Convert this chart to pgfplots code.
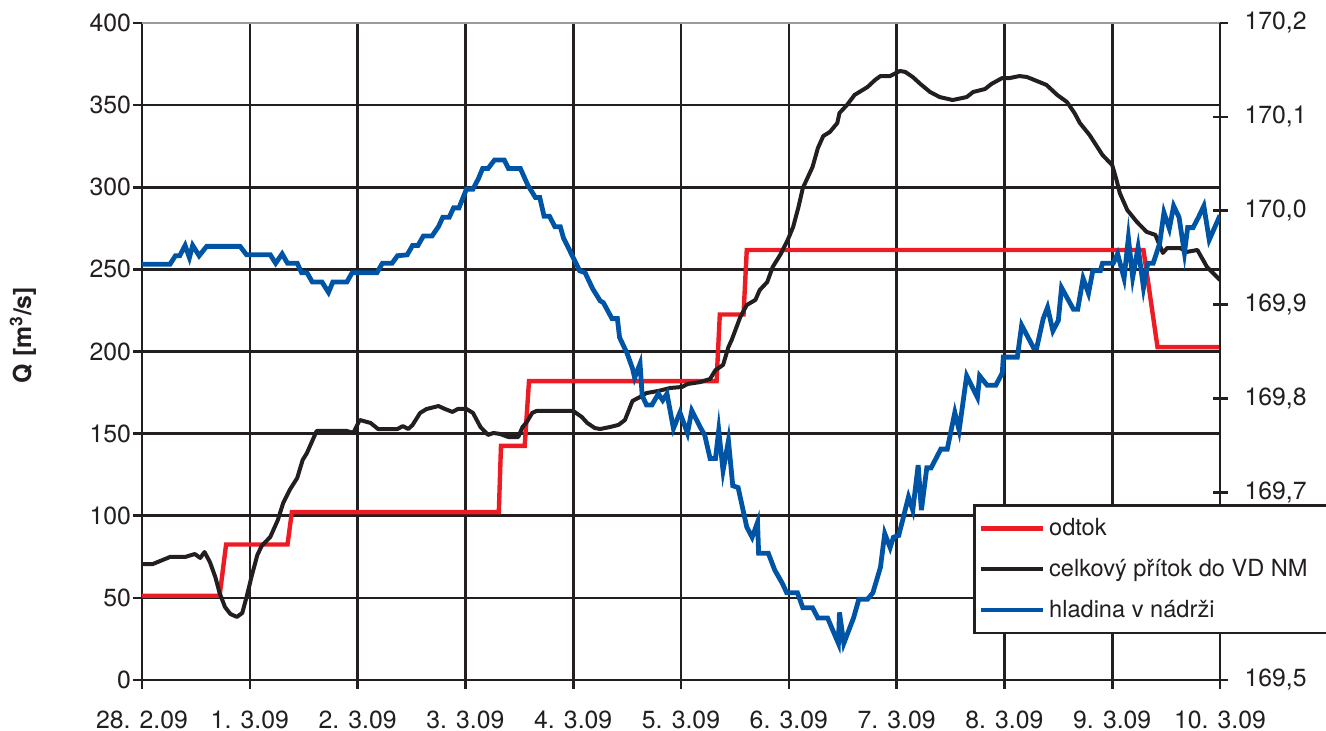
\documentclass[border=0pt]{standalone}
\usepackage{fontspec}
\setmainfont{TeX Gyre Heros}
\usepackage{pgfplots}
\pgfplotsset{compat=1.18}
\definecolor{cred}{HTML}{ED1C24}
\definecolor{cblue}{HTML}{0054A6}
\definecolor{cblack}{HTML}{231F20}
\definecolor{cgray}{HTML}{9A9A9A}
\newcommand{\tf}{\fontsize{12.4}{14.5}\selectfont}
\newcommand{\lf}{\fontsize{11.8}{14}\selectfont}
\begin{document}
\begin{tikzpicture}
\begin{axis}[
 scale only axis, width=539pt, height=328.5pt,
 xmin=0, xmax=10, ymin=0, ymax=400,
 axis x line*=bottom, axis y line*=left,
 axis line style={draw=cblack, line width=1.3pt, -},
 xtick={0,...,10},
 xticklabels={28. 2.09,1. 3.09,2. 3.09,3. 3.09,4. 3.09,5. 3.09,6. 3.09,7. 3.09,8. 3.09,9. 3.09,10. 3.09},
 ytick={0,50,...,400},
 grid=major,
 major grid style={draw=cblack, line width=1.3pt},
 tick align=outside, major tick length=4.5pt,
 tick style={draw=cblack, line width=1.3pt},
 tick label style={font=\tf, text=cblack},
 xticklabel style={inner sep=1pt, yshift=-9.6pt},
 yticklabel style={xshift=2.5pt},
 /pgf/number format/assume math mode=true,
 ylabel={\textbf{Q [m\textsuperscript{3}/s]}},
 ylabel style={at={(axis description cs:-0.1104,0.525)}, anchor=center, font=\tf, text=cblack},
]
\addplot[cred, line width=2.2pt] coordinates {(0,51.3)(0.72,51.3)(0.78,82.5)(1.35,82.5)(1.39,102.2)(3.31,102.2)(3.33,142.5)(3.55,142.5)(3.59,182)(5.33,182)(5.36,222.5)(5.58,222.5)(5.61,261.8)(9.29,261.8)(9.42,202.7)(10,202.7)};
\addplot[cblack, line width=2pt, line join=round] coordinates {(0,70.6)(0.10,70.6)(0.26,74.9)(0.40,74.9)(0.49,76.7)(0.54,74.3)(0.58,77.9)(0.63,71.8)(0.68,62.7)(0.72,53.0)(0.77,44.4)(0.82,40.2)(0.88,38.4)(0.93,40.8)(0.97,50.5)(1.02,63.9)(1.07,76.1)(1.11,81.6)(1.19,87.1)(1.26,97.4)(1.31,107.8)(1.37,115.7)(1.44,123.0)(1.49,133.9)(1.53,138.2)(1.62,151.6)(1.90,151.6)(1.96,150.4)(2.02,158.3)(2.12,156.5)(2.19,152.8)(2.37,152.8)(2.42,154.6)(2.47,152.8)(2.51,155.3)(2.58,162.6)(2.64,165.0)(2.75,166.8)(2.81,165.0)(2.88,163.2)(2.93,165.0)(3.01,165.0)(3.07,162.6)(3.14,154.0)(3.21,149.2)(3.26,150.4)(3.32,149.8)(3.40,147.9)(3.49,147.9)(3.53,154.0)(3.57,157.1)(3.62,162.6)(3.66,163.8)(4.00,163.8)(4.08,160.1)(4.13,156.5)(4.20,153.4)(4.25,152.8)(4.34,154.0)(4.42,155.3)(4.48,158.3)(4.55,169.9)(4.62,172.3)(4.68,174.7)(4.79,176.0)(4.90,177.8)(5.01,178.4)(5.06,180.2)(5.18,181.4)(5.27,183.3)(5.32,188.7)(5.39,191.8)(5.44,202.7)(5.47,207.0)(5.55,221.0)(5.61,228.3)(5.69,231.4)(5.73,237.4)(5.80,242.3)(5.85,251.4)(5.92,258.8)(5.99,267.9)(6.04,275.8)(6.09,288.0)(6.13,299.5)(6.22,312.3)(6.27,323.9)(6.32,331.2)(6.38,333.6)(6.45,339.1)(6.47,345.2)(6.54,350.1)(6.61,356.2)(6.73,361.0)(6.80,365.3)(6.85,367.7)(6.94,367.7)(7.03,370.8)(7.08,370.2)(7.15,367.1)(7.22,362.9)(7.31,358.0)(7.40,354.9)(7.52,353.1)(7.65,354.9)(7.71,358.0)(7.82,359.8)(7.88,362.9)(7.98,366.5)(8.05,366.5)(8.14,367.7)(8.21,367.1)(8.30,364.7)(8.39,362.3)(8.49,356.2)(8.58,351.9)(8.65,345.2)(8.70,339.1)(8.79,331.8)(8.91,319.6)(9.00,313.5)(9.04,304.4)(9.07,296.5)(9.14,286.1)(9.23,278.8)(9.32,272.8)(9.40,271.0)(9.47,260.0)(9.51,263.0)(9.63,263.0)(9.69,260.6)(9.79,261.8)(9.88,251.4)(10.00,243.5)};
\end{axis}
\begin{axis}[
 scale only axis, width=539pt, height=328.5pt,
 xmin=0, xmax=10, ymin=169.5, ymax=170.2,
 axis x line*=top, xtick=\empty, axis y line*=right,
 axis line style={draw=cblack, line width=1.3pt, -},
 x axis line style={draw=cgray},
 ytick={169.5,169.6,169.7,169.8,169.9,170.0,170.1,170.2},
 yticklabels={169{,}5,,169{,}7,169{,}8,169{,}9,170{,}0,170{,}1,170{,}2},
 tick align=center, major tick length=7.5pt,
 tick style={draw=cblack, line width=1.3pt},
 tick label style={font=\tf, text=cblack},
 yticklabel style={xshift=5pt},
 legend style={at={(0.7709,0.2679)}, anchor=north west, draw=cblack, line width=1.3pt, font=\lf, text=cblack, inner xsep=2pt, inner ysep=4.5pt, row sep=6.3pt, cells={anchor=west}},
 legend cell align=left,
 legend image code/.code={\draw[#1] (0pt,0pt) -- (31pt,0pt);},
]
\addlegendimage{cred, line width=2.2pt}
\addlegendentry{odtok}
\addlegendimage{cblack, line width=2pt}
\addlegendentry{\makebox[150pt][l]{celkový přítok do VD NM}}
\addplot[cblue, line width=2.4pt] coordinates {(0,169.943)(0.26,169.943)(0.31,169.952)(0.35,169.952)(0.40,169.963)(0.44,169.950)(0.47,169.963)(0.53,169.952)(0.60,169.962)(0.91,169.962)(0.97,169.953)(1.19,169.953)(1.24,169.944)(1.30,169.954)(1.35,169.944)(1.44,169.944)(1.48,169.934)(1.53,169.934)(1.58,169.924)(1.67,169.924)(1.73,169.913)(1.77,169.924)(1.90,169.924)(1.95,169.934)(2.18,169.934)(2.23,169.944)(2.32,169.944)(2.37,169.952)(2.46,169.953)(2.51,169.963)(2.56,169.963)(2.61,169.973)(2.69,169.973)(2.75,169.983)(2.79,169.993)(2.85,169.993)(2.89,170.003)(2.94,170.003)(3.01,170.023)(3.07,170.023)(3.12,170.034)(3.16,170.045)(3.21,170.045)(3.27,170.054)(3.36,170.054)(3.40,170.045)(3.51,170.045)(3.58,170.027)(3.65,170.014)(3.69,170.014)(3.73,169.994)(3.78,169.994)(3.83,169.983)(3.88,169.983)(3.91,169.971)(4.00,169.950)(4.06,169.936)(4.11,169.934)(4.18,169.917)(4.25,169.904)(4.28,169.902)(4.36,169.885)(4.41,169.885)(4.43,169.865)(4.50,169.848)(4.55,169.832)(4.57,169.822)(4.62,169.837)(4.64,169.803)(4.68,169.793)(4.73,169.793)(4.79,169.805)(4.83,169.798)(4.87,169.805)(4.93,169.768)(4.99,169.785)(5.06,169.763)(5.10,169.787)(5.18,169.769)(5.22,169.761)(5.27,169.736)(5.32,169.736)(5.35,169.766)(5.39,169.723)(5.44,169.755)(5.48,169.707)(5.53,169.705)(5.57,169.684)(5.61,169.663)(5.66,169.652)(5.71,169.668)(5.72,169.635)(5.81,169.635)(5.87,169.617)(5.94,169.603)(5.98,169.593)(6.08,169.593)(6.13,169.577)(6.22,169.577)(6.27,169.566)(6.36,169.566)(6.46,169.539)(6.47,169.572)(6.51,169.539)(6.60,169.566)(6.65,169.586)(6.73,169.586)(6.78,169.593)(6.85,169.620)(6.89,169.656)(6.94,169.641)(6.97,169.652)(7.02,169.654)(7.11,169.695)(7.15,169.681)(7.20,169.729)(7.23,169.681)(7.28,169.726)(7.32,169.726)(7.41,169.746)(7.47,169.746)(7.54,169.785)(7.58,169.766)(7.65,169.824)(7.75,169.801)(7.77,169.824)(7.84,169.814)(7.92,169.814)(7.98,169.827)(7.99,169.844)(8.12,169.844)(8.16,169.878)(8.27,169.854)(8.30,169.854)(8.36,169.885)(8.40,169.897)(8.45,169.872)(8.50,169.883)(8.53,169.918)(8.64,169.895)(8.68,169.895)(8.73,169.928)(8.78,169.912)(8.82,169.936)(8.89,169.936)(8.91,169.944)(9.01,169.944)(9.05,169.954)(9.11,169.928)(9.15,169.971)(9.19,169.929)(9.24,169.961)(9.29,169.918)(9.33,169.944)(9.38,169.944)(9.44,169.965)(9.48,169.998)(9.53,169.981)(9.57,170.005)(9.62,169.993)(9.67,169.955)(9.70,169.982)(9.75,169.982)(9.80,169.993)(9.85,170.005)(9.90,169.969)(10.00,169.995)};
\addlegendentry{hladina v nádrži}
\end{axis}
\pgfresetboundingbox
\path (-71pt,-25.5pt) rectangle (592pt,340pt);
\end{tikzpicture}
\end{document}
